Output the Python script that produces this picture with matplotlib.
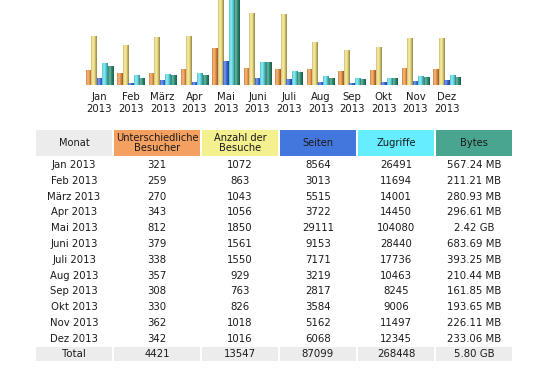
import numpy as np
import matplotlib.pyplot as plt
from matplotlib.patches import Rectangle
from matplotlib.colors import LinearSegmentedColormap, to_rgb

# ------------------------------------------------------
# DATA
# ------------------------------------------------------

months = ["Jan", "Feb", "März", "Apr", "Mai", "Juni",
          "Juli", "Aug", "Sep", "Okt", "Nov", "Dez"]
year = "2013"

visitors = [321, 259, 270, 343, 812, 379, 338, 357, 308, 330, 362, 342]
visits = [1072, 863, 1043, 1056, 1850, 1561, 1550, 929, 763, 826, 1018, 1016]
pages = [8564, 3013, 5515, 3722, 29111, 9153, 7171, 3219, 2817, 3584, 5162, 6068]
hits = [26491, 11694, 14001, 14450, 104080, 28440, 17736, 10463, 8245, 9006, 11497, 12345]
bytes_mb = [567.24, 211.21, 280.93, 296.61, 2478.08, 683.69,
            393.25, 210.44, 161.85, 193.65, 226.11, 233.06]

headers = ["Monat", "Unterschiedliche\nBesucher", "Anzahl der\nBesuche",
           "Seiten", "Zugriffe", "Bytes"]

# ------------------------------------------------------
# STYLE
# ------------------------------------------------------

W, H = 535, 372
FS = 7.3
TXT = "#1a1a1a"

bar_colors = ["#F0984A", "#F2E080", "#3F6FE0", "#60E0EC", "#2E9478"]
head_colors = ["#ECECEC", "#F4A060", "#F4F090", "#4477DD", "#66EEFF", "#4AA590"]


def fmt_bytes(mb):
    if mb >= 1024:
        return "%.2f GB" % (mb / 1024)
    return "%.2f MB" % mb


def grad_cmap(c):
    r = np.array(to_rgb(c))
    light = np.clip(r + (1 - r) * 0.35, 0, 1)
    return LinearSegmentedColormap.from_list(
        "g", [(0, r * 0.85), (0.3, light), (0.55, r), (1, r * 0.6)])


fig = plt.figure(figsize=(W / 100, H / 100), dpi=100)

# ------------------------------------------------------
# BAR CHART
# ------------------------------------------------------

ax = fig.add_axes([80 / W, 1 - 85 / H, 390 / W, 85 / H])
ax.axis("off")

x = np.arange(len(months))
bw = 0.174
series = [
    np.array(visitors) / max(visits),
    np.array(visits) / max(visits),
    np.array(pages) / max(hits),
    np.array(hits) / max(hits),
    np.array(bytes_mb) / max(bytes_mb),
]
grad = np.linspace(0, 1, 32).reshape(1, -1)
for k, vals in enumerate(series):
    bars = ax.bar(x + (k - 2) * bw, vals, width=bw, color=bar_colors[k], lw=0)
    cm = grad_cmap(bar_colors[k])
    for b in bars:
        im = ax.imshow(grad, cmap=cm, aspect="auto", interpolation="bilinear",
                       extent=(b.get_x(), b.get_x() + b.get_width(), 0, b.get_height()),
                       zorder=2)
        im.set_clip_path(b)
ax.set_xlim(-0.617, 11.728)
ax.set_ylim(0, 1)

for i, m in enumerate(months):
    ax.text(i, -0.085, m + "\n" + year, ha="center", va="top", fontsize=FS,
            color=TXT, linespacing=1.2, clip_on=False)

# ------------------------------------------------------
# TABLE
# ------------------------------------------------------

tb = fig.add_axes([0, 0, 1, 1])
tb.set_xlim(0, W)
tb.set_ylim(H, 0)
tb.axis("off")
tb.set_zorder(-1)

col_l = [36, 114, 202, 280, 358, 436]
col_r = [112, 200, 278, 356, 434, 512]
col_c = [74, 157, 240, 318, 396, 474]

for j, h in enumerate(headers):
    tb.add_patch(Rectangle((col_l[j], 130), col_r[j] - col_l[j], 25.5,
                           color=head_colors[j], lw=0))
    tb.text(col_c[j], 143, h, ha="center", va="center", fontsize=7.1,
            color=TXT, linespacing=1.05)

for i, m in enumerate(months):
    yy = 165 + i * 15.8
    row = [m + " " + year, str(visitors[i]), str(visits[i]), str(pages[i]),
           str(hits[i]), fmt_bytes(bytes_mb[i])]
    for j, s in enumerate(row):
        tb.text(col_c[j], yy, s, ha="center", va="center", fontsize=FS, color=TXT)

total = ["Total", str(sum(visitors)), str(sum(visits)), str(sum(pages)),
         str(sum(hits)), fmt_bytes(sum(bytes_mb))]
for j, s in enumerate(total):
    tb.add_patch(Rectangle((col_l[j], 347.3), col_r[j] - col_l[j], 13.5,
                           color="#ECECEC", lw=0))
    tb.text(col_c[j], 354.3, s, ha="center", va="center", fontsize=FS, color=TXT)

fig.savefig("out.png", dpi=100)
